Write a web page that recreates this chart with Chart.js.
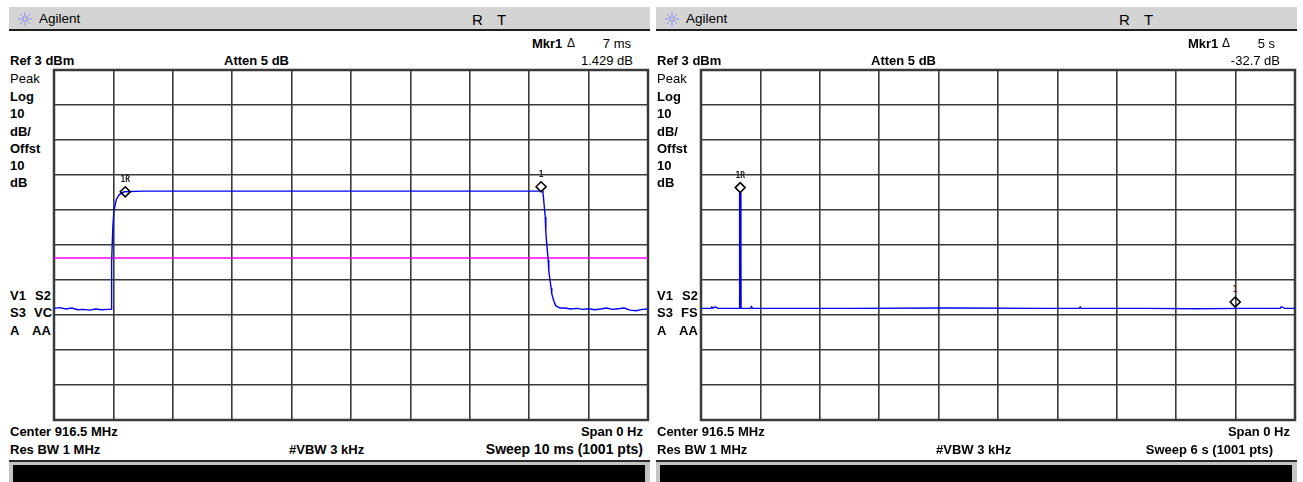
<!DOCTYPE html>
<html>
<head>
<meta charset="utf-8">
<script src="https://cdn.jsdelivr.net/npm/chart.js@4/dist/chart.umd.min.js"></script>
<style>
  html, body { margin: 0; padding: 0; background: #fff; }
  body { width: 1303px; height: 482px; position: relative; overflow: hidden;
         font-family: "Liberation Sans", Arial, sans-serif; color: #000; }
  .panel { position: absolute; top: 0; width: 650px; height: 482px; }
  .hdr { position: absolute; left: 9px; top: 7px; width: 641px; height: 22px;
         background: #d4d4d4; border-bottom: 2px solid #1e1e1e; }
  .t { position: absolute; white-space: nowrap; line-height: 1; transform: translateY(-50%); }
  .r { transform: translate(-100%, -50%); }
  .b { font-weight: bold; }
  .s13 { font-size: 13px; }
  .foot { position: absolute; left: 9px; top: 460px; width: 641px; height: 22px;
          background: #c4c4c4; border-top: 2px solid #2a2a2a; }
  .foot div { position: absolute; left: 4px; right: 5px; top: 3px; bottom: 0; background: #000; }
  canvas { position: absolute; top: 66px; }
</style>
</head>
<body>
<script>
// Sweep 1: 10 ms span, burst trace (time in ms, level in dBm)
const leftTime = [0, 0.1, 0.2, 0.3, 0.4, 0.5, 0.6, 0.7, 0.8, 0.9, 0.95, 0.96, 0.97, 0.99, 1.01, 1.05, 1.1, 1.18,
  1.5, 3, 5, 7, 8.0, 8.23, 8.27, 8.28, 8.30, 8.32, 8.33, 8.35, 8.37, 8.38, 8.42, 8.45, 8.52,
  8.6, 8.7, 8.8, 8.9, 9.0, 9.1, 9.2, 9.3, 9.4, 9.5, 9.6, 9.7, 9.8, 9.9, 10];
const leftLevel = [-65.1, -64.9, -65.3, -65.0, -65.5, -65.4, -65.6, -65.3, -65.5, -65.4, -65.4, -65.4, -51.9, -42.0, -37.0, -34.0, -32.6, -31.8,
  -31.6, -31.6, -31.6, -31.6, -31.6, -31.6, -39.0, -43.3, -47.6, -51.3, -54.4, -57.0, -59.3, -61.0, -63.3, -64.4, -65.0,
  -65.0, -65.3, -65.1, -65.4, -65.2, -65.5, -65.3, -65.0, -65.4, -65.2, -65.0, -65.6, -65.8, -65.4, -65.3];
const leftMarkerTime = [1.2, 8.2];
const leftMarkerLevel = [-31.8, -30.371];
const leftMarkerNames = ['1R', '1'];
const leftDisplayLine = -50.7;
const leftGridTimes = [0, 1, 2, 3, 4, 5, 6, 7, 8, 9, 10];

// Sweep 2: 6 s span, single short burst (time in s, level in dBm)
const rightTime = [0, 0.10, 0.11, 0.12, 0.14, 0.16, 0.17, 0.385, 0.386, 0.392, 0.393, 0.398, 0.402, 0.404, 0.405,
  0.50, 0.51, 0.52, 1.5, 2.5, 3.5, 3.82, 3.83, 3.84, 4.5, 5.0, 5.5, 5.85, 5.86, 5.9, 6];
const rightLevel = [-65.1, -65.1, -64.7, -65.1, -64.7, -64.8, -65.1, -65.1, -48.4, -48.4, -32.1, -32.1, -48.4, -48.4, -65.1,
  -65.1, -64.6, -65.1, -65.1, -65.0, -65.1, -65.1, -64.7, -65.1, -65.1, -65.2, -65.1, -65.1, -64.7, -65.1, -65.1];
const rightMarkerTime = [0.396, 5.396];
const rightMarkerLevel = [-30.6, -63.3];
const rightMarkerNames = ['1R', '1'];
const rightGridTimes = [0, 0.6, 1.2, 1.8, 2.4, 3.0, 3.6, 4.2, 4.8, 5.4, 6.0];

// Amplitude graticule: Ref 3 dBm, 10 dB/div
const gridLevels = [3, -7, -17, -27, -37, -47, -57, -67, -77, -87, -97];

// Annotation texts of each screen
const leftTexts = { mkrValue: '7 ms', mkrDelta: '1.429 dB', det: ['V1', 'S2', 'S3', 'VC', 'A', 'AA'],
  sweep: 'Sweep 10 ms (1001 pts)', sweepSize: '14px' };
const rightTexts = { mkrValue: '5 s', mkrDelta: '-32.7 dB', det: ['V1', 'S2', 'S3', 'FS', 'A', 'AA'],
  sweep: 'Sweep 6 s (1001 pts)', sweepSize: '13px' };

function el(parent, cls, text, x, y, extra) {
  const d = document.createElement('div');
  d.className = cls;
  if (text !== null) d.textContent = text;
  d.style.left = x + 'px';
  if (y !== null) d.style.top = y + 'px';
  if (extra) Object.assign(d.style, extra);
  parent.appendChild(d);
  return d;
}

function logoSvg() {
  const ns = 'http://www.w3.org/2000/svg';
  const svg = document.createElementNS(ns, 'svg');
  svg.setAttribute('width', '16'); svg.setAttribute('height', '16');
  svg.style.position = 'absolute'; svg.style.left = '17px'; svg.style.top = '11px';
  for (let i = 0; i < 8; i++) {
    const a = i * Math.PI / 4;
    const ln = document.createElementNS(ns, 'line');
    ln.setAttribute('x1', 8 + Math.cos(a) * 1.5); ln.setAttribute('y1', 8 + Math.sin(a) * 1.5);
    ln.setAttribute('x2', 8 + Math.cos(a) * 7); ln.setAttribute('y2', 8 + Math.sin(a) * 7);
    ln.setAttribute('stroke', '#4a4aff'); ln.setAttribute('stroke-width', '1');
    ln.setAttribute('stroke-dasharray', '1 1');
    svg.appendChild(ln);
  }
  return svg;
}

function buildPanel(offsetX, tx, mkrX, deltaX, valRight, sweepRight) {
  const p = document.createElement('div');
  p.className = 'panel';
  p.style.left = offsetX + 'px';
  document.body.appendChild(p);

  el(p, 'hdr', null, 9, 7);
  p.appendChild(logoSvg());
  el(p, 't', 'Agilent', 39, 19, { fontSize: '13.5px' });
  el(p, 't', 'R', 472, 19, { fontSize: '15px' });
  el(p, 't', 'T', 497, 19, { fontSize: '15px' });

  el(p, 't b s13', 'Mkr1', mkrX, 43);
  el(p, 't s13', 'Δ', deltaX, 43, { fontSize: '12px' });
  el(p, 't r s13', tx.mkrValue, valRight, 43);
  el(p, 't r s13', tx.mkrDelta, 633, 60);

  el(p, 't b s13', 'Ref 3 dBm', 10, 60);
  el(p, 't b s13', 'Atten 5 dB', 224, 60);

  el(p, 't s13', 'Peak', 10, 78);
  const side = ['Log', '10', 'dB/', 'Offst', '10', 'dB'];
  const sideY = [96, 113, 131, 148, 165, 182];
  side.forEach((s, i) => el(p, 't b s13', s, 10, sideY[i]));

  const d = tx.det;
  el(p, 't b s13', d[0], 10, 295); el(p, 't b s13', d[1], 35, 295);
  el(p, 't b s13', d[2], 10, 312); el(p, 't b s13', d[3], 34, 312);
  el(p, 't b s13', d[4], 10, 330); el(p, 't b s13', d[5], 32, 330);

  el(p, 't b s13', 'Center 916.5 MHz', 10, 431);
  el(p, 't r b s13', 'Span 0 Hz', 643, 431);
  el(p, 't b s13', 'Res BW 1 MHz', 10, 449);
  el(p, 't b s13', '#VBW 3 kHz', 289, 449);
  el(p, 't r b', tx.sweep, sweepRight, 449, { fontSize: tx.sweepSize });

  const f = el(p, 'foot', null, 9, 460);
  f.appendChild(document.createElement('div'));

  const c = document.createElement('canvas');
  c.width = 602; c.height = 358;
  c.style.left = '50px';
  p.appendChild(c);
  return c;
}

// Graticule outline drawn beneath the traces
const framePlugin = {
  id: 'frame',
  beforeDatasetsDraw(chart) {
    const a = chart.chartArea, ctx = chart.ctx;
    ctx.save();
    ctx.strokeStyle = '#3a3a3a';
    ctx.lineWidth = 2.5;
    ctx.strokeRect(a.left, a.top, a.right - a.left, a.bottom - a.top);
    ctx.restore();
  }
};

// Marker annotations ("1R", "1") above each diamond
const markerLabelPlugin = {
  id: 'markerLabels',
  afterDatasetsDraw(chart) {
    const ds = chart.data.datasets.find(d => d.markerNames);
    if (!ds) return;
    const meta = chart.getDatasetMeta(chart.data.datasets.indexOf(ds));
    const ctx = chart.ctx;
    ctx.save();
    ctx.font = 'bold 8px "DejaVu Sans Mono", monospace';
    ctx.textAlign = 'center';
    ctx.textBaseline = 'middle';
    meta.data.forEach((pt, i) => {
      ctx.fillStyle = ds.markerColors[i];
      ctx.fillText(ds.markerNames[i], pt.x, pt.y - 12);
    });
    ctx.restore();
  }
};

function makeChart(canvas, times, levels, mTimes, mLevels, mNames, mColors, xMax, gridTimes, displayLine) {
  const datasets = [
    {
      data: mTimes.map((t, i) => ({ x: t, y: mLevels[i] })),
      showLine: false, pointStyle: 'rectRot', pointRadius: 5,
      pointBorderColor: '#000', pointBackgroundColor: 'rgba(255,255,255,0)', pointBorderWidth: 1.6,
      markerNames: mNames, markerColors: mColors, order: 0
    },
    {
      data: times.map((t, i) => ({ x: t, y: levels[i] })),
      showLine: true, borderColor: '#0000f0', borderWidth: 1.4, pointRadius: 0, tension: 0, order: 1
    }
  ];
  if (displayLine !== null) {
    datasets.push({
      data: [{ x: 0, y: displayLine }, { x: xMax, y: displayLine }],
      showLine: true, borderColor: '#ff00ff', borderWidth: 1.6, pointRadius: 0, order: 2
    });
  }
  return new Chart(canvas, {
    type: 'scatter',
    data: { datasets },
    options: {
      responsive: false, animation: false, events: [],
      layout: { padding: 4, autoPadding: false },
      plugins: { legend: { display: false }, tooltip: { enabled: false } },
      scales: {
        x: {
          type: 'linear', min: 0, max: xMax,
          afterBuildTicks: s => { s.ticks = gridTimes.map(v => ({ value: v })); },
          afterFit: s => { s.height = 0; },
          ticks: { display: false },
          grid: { color: '#3a3a3a', lineWidth: 1.6, drawTicks: false },
          border: { display: false }
        },
        y: {
          type: 'linear', min: -97, max: 3,
          afterBuildTicks: s => { s.ticks = gridLevels.map(v => ({ value: v })); },
          afterFit: s => { s.width = 0; },
          ticks: { display: false },
          grid: { color: '#3a3a3a', lineWidth: 1.6, drawTicks: false },
          border: { display: false }
        }
      }
    },
    plugins: [framePlugin, markerLabelPlugin]
  });
}

const leftCanvas = buildPanel(0, leftTexts, 532, 567, 631, 643);
const rightCanvas = buildPanel(647, rightTexts, 541, 575, 628, 626);

makeChart(leftCanvas, leftTime, leftLevel, leftMarkerTime, leftMarkerLevel, leftMarkerNames,
  ['#222', '#222'], 10, leftGridTimes, leftDisplayLine);
makeChart(rightCanvas, rightTime, rightLevel, rightMarkerTime, rightMarkerLevel, rightMarkerNames,
  ['#222', '#602020'], 6, rightGridTimes, null);
</script>
</body>
</html>
